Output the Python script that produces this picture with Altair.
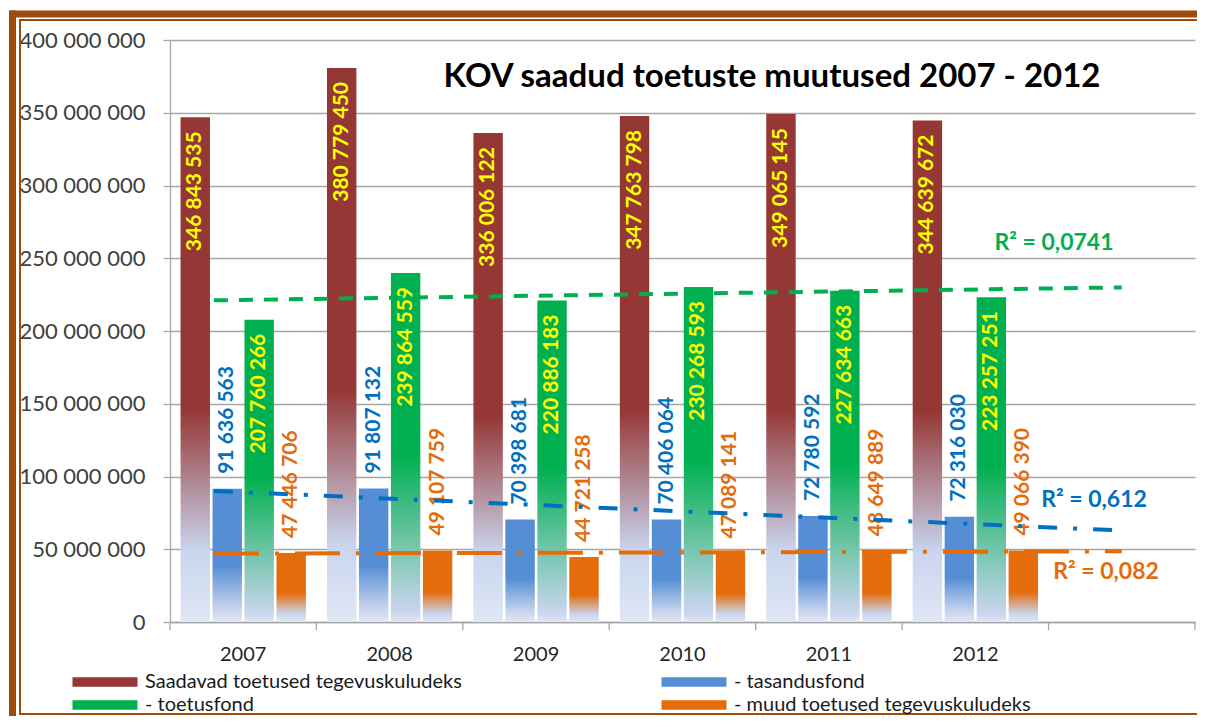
import altair as alt
import pandas as pd

# ---------------- data ----------------
years = ["2007", "2008", "2009", "2010", "2011", "2012"]
series_names = [
    "Saadavad toetused tegevuskuludeks",
    "- tasandusfond",
    "- toetusfond",
    "- muud toetused tegevuskuludeks",
]
saadavad = [346843535, 380779450, 336006122, 347763798, 349065145, 344639672]
tasandusfond = [91636563, 91807132, 70398681, 70406064, 72780592, 72316030]
toetusfond = [207760266, 239864559, 220886183, 230268593, 227634663, 223257251]
muud = [47446706, 49107759, 44721258, 47089141, 48649889, 49066390]
r2_texts = ["R² = 0,0741", "R² = 0,612", "R² = 0,082"]
title_text = "KOV saadud toetuste muutused 2007 - 2012"
y_ticks = [0, 50000000, 100000000, 150000000, 200000000, 250000000, 300000000, 350000000, 400000000]

series_values = [saadavad, tasandusfond, toetusfond, muud]
colors = ["#953735", "#558ed5", "#00b050", "#e46c0a"]
label_colors = ["#ffff00", "#0070c0", "#ffff00", "#e46c0a"]
trend_colors = ["#00b050", "#0070c0", "#e46c0a"]

rows = []
for s, vals in zip(series_names, series_values):
    for i, (yr, v) in enumerate(zip(years, vals)):
        rows.append({"year": yr, "t": i + 1, "series": s, "value": v,
                     "label": f"{v:,}".replace(",", " ")})
df = pd.DataFrame(rows)

FONT = "Lato"
GRID = "#a6a6a6"

# ---------------- encodings ----------------
all_slots = years + [" "]
xb = alt.X("year:N", title=None,
           scale=alt.Scale(domain=all_slots, paddingInner=0, paddingOuter=0),
           axis=alt.Axis(labelAngle=0, ticks=False, tickSize=0, labelPadding=22,
                         labelFont=FONT, labelFontSize=20, labelColor="#262626",
                         domainColor=GRID, domainWidth=1.3, grid=False))
xo = alt.XOffset("series:N",
                 scale=alt.Scale(domain=series_names, paddingInner=0.08, paddingOuter=0.33))
y = alt.Y("value:Q", title=None,
          scale=alt.Scale(domain=[0, 400000000], nice=False, zero=True),
          axis=alt.Axis(values=y_ticks,
                        labelExpr="replace(format(datum.value, ','), /,/g, ' ')",
                        grid=True, gridColor=GRID, gridWidth=1.3,
                        domainColor=GRID, domainWidth=1.3, tickColor=GRID, tickWidth=1.3,
                        tickSize=7, labelPadding=18, labelFont=FONT, labelFontSize=22,
                        labelColor="#404040"))
xq_scale = alt.Scale(domain=[0.5, len(all_slots) + 0.5], nice=False, zero=False)


def grad(c, solid, light_at):
    return alt.LinearGradient(
        gradient="linear", x1=0, y1=0, x2=0, y2=1,
        stops=[alt.GradientStop(offset=0, color=c),
               alt.GradientStop(offset=solid, color=c),
               alt.GradientStop(offset=light_at, color="#c9d5ee"),
               alt.GradientStop(offset=1, color="#e0e7f5")])


grad_params = [(0.58, 0.86), (0.58, 0.9), (0.52, 0.97), (0.58, 0.88)]

base = alt.Chart(df)

bar_layers = []
for s, c, (a, b) in zip(series_names, colors, grad_params):
    bar_layers.append(
        base.transform_filter(alt.datum.series == s)
        .mark_bar(fill=grad(c, a, b), strokeWidth=0)
        .encode(x=xb, xOffset=xo, y=y)
    )

label_layers = []
for idx, (s, lc) in enumerate(zip(series_names, label_colors)):
    inside = idx in (0, 2)
    label_layers.append(
        base.transform_filter(alt.datum.series == s)
        .mark_text(angle=270, align="right" if inside else "left", baseline="middle",
                   yOffset=14 if inside else -15, font=FONT, fontSize=21,
                   fontWeight="bold", color=lc)
        .encode(x=xb, xOffset=xo, y=y, text="label:N")
    )

bars_group = alt.layer(*bar_layers, *label_layers)

# ---------------- trend lines ----------------
trend_specs = [
    (series_names[2], trend_colors[0], [14, 11]),
    (series_names[1], trend_colors[1], [19, 16, 4, 16]),
    (series_names[3], trend_colors[2], [45, 16, 4, 16]),
]
trend_layers = []
for s, c, dash in trend_specs:
    trend_layers.append(
        base.transform_filter(alt.datum.series == s)
        .transform_regression("t", "value", extent=[0.8, 7])
        .mark_line(color=c, strokeWidth=4, strokeDash=dash)
        .encode(x=alt.X("t:Q", scale=xq_scale, axis=None), y=y)
    )

bounds = pd.DataFrame({"b": [i + 0.5 for i in range(len(all_slots) + 1)]})
tick_rules = alt.Chart(bounds).mark_rule(color=GRID, strokeWidth=1.3).encode(
    x=alt.X("b:Q", scale=xq_scale, axis=None), y=alt.value(582), y2=alt.value(590))

trend_group = alt.layer(tick_rules, *trend_layers)

# ---------------- annotations ----------------
r2_pos = [(884, 203), (924, 460), (936, 532)]
r2_layers = []
for txt, c, (px, py) in zip(r2_texts, trend_colors, r2_pos):
    r2_layers.append(
        alt.Chart(alt.Data(values=[{"t": txt}]))
        .mark_text(font=FONT, fontSize=23, fontWeight="bold", color=c,
                   align="center", baseline="middle")
        .encode(x=alt.value(px), y=alt.value(py), text="t:N")
    )

title_layer = alt.Chart(alt.Data(values=[{"t": title_text}])).mark_text(
    font=FONT, fontSize=33, fontWeight="bold", color="#000000",
    align="center", baseline="middle").encode(
    x=alt.value(602), y=alt.value(37), text="t:N")

# decorative frame (top / left / bottom edges; the right edge lies outside the picture)
FRAME = "#9e4b0c"
one = alt.Data(values=[{}])
frame_layers = [
    alt.Chart(one).mark_rule(color=FRAME, strokeWidth=7).encode(
        x=alt.value(-161), x2=alt.value(3000), y=alt.value(-26)),
    alt.Chart(one).mark_rule(color=FRAME, strokeWidth=7).encode(
        x=alt.value(-157.5), y=alt.value(-29.5), y2=alt.value(3000)),
    alt.Chart(one).mark_rule(color=FRAME, strokeWidth=2).encode(
        x=alt.value(-151), x2=alt.value(3000), y=alt.value(-20)),
    alt.Chart(one).mark_rule(color=FRAME, strokeWidth=2).encode(
        x=alt.value(-150), y=alt.value(-21), y2=alt.value(675)),
    alt.Chart(one).mark_rule(color=FRAME, strokeWidth=2).encode(
        x=alt.value(-151), x2=alt.value(3000), y=alt.value(674)),
]

# legend entries are filled column by column -> order the domain so rows read as in the reference
legend_order = [series_names[0], series_names[2], series_names[1], series_names[3]]
legend_colors = [colors[0], colors[2], colors[1], colors[3]]
legend_layer = base.transform_filter("false").mark_square().encode(
    color=alt.Color("series:N",
                    scale=alt.Scale(domain=legend_order, range=legend_colors),
                    legend=alt.Legend(title=None, orient="none", legendX=-75, legendY=632,
                                      columns=2, columnPadding=199, rowPadding=3,
                                      symbolType="M-4,-0.6H4V0.6H-4Z", symbolSize=264,
                                      symbolStrokeWidth=0, symbolOpacity=1,
                                      labelFont=FONT, labelFontSize=20, labelColor="#1a1a1a",
                                      labelLimit=600, labelOffset=30)))

chart = alt.layer(
    *frame_layers, bars_group, trend_group, *r2_layers, title_layer, legend_layer
).resolve_scale(x="independent").properties(
    width=1025, height=582,
    autosize=alt.AutoSizeParams(type="none"),
    padding={"left": 162, "top": 32, "right": 2, "bottom": 94},
    background="#ffffff",
).configure_view(strokeWidth=0)

chart.save("out.html", embed_options={"renderer": "svg", "actions": False})
